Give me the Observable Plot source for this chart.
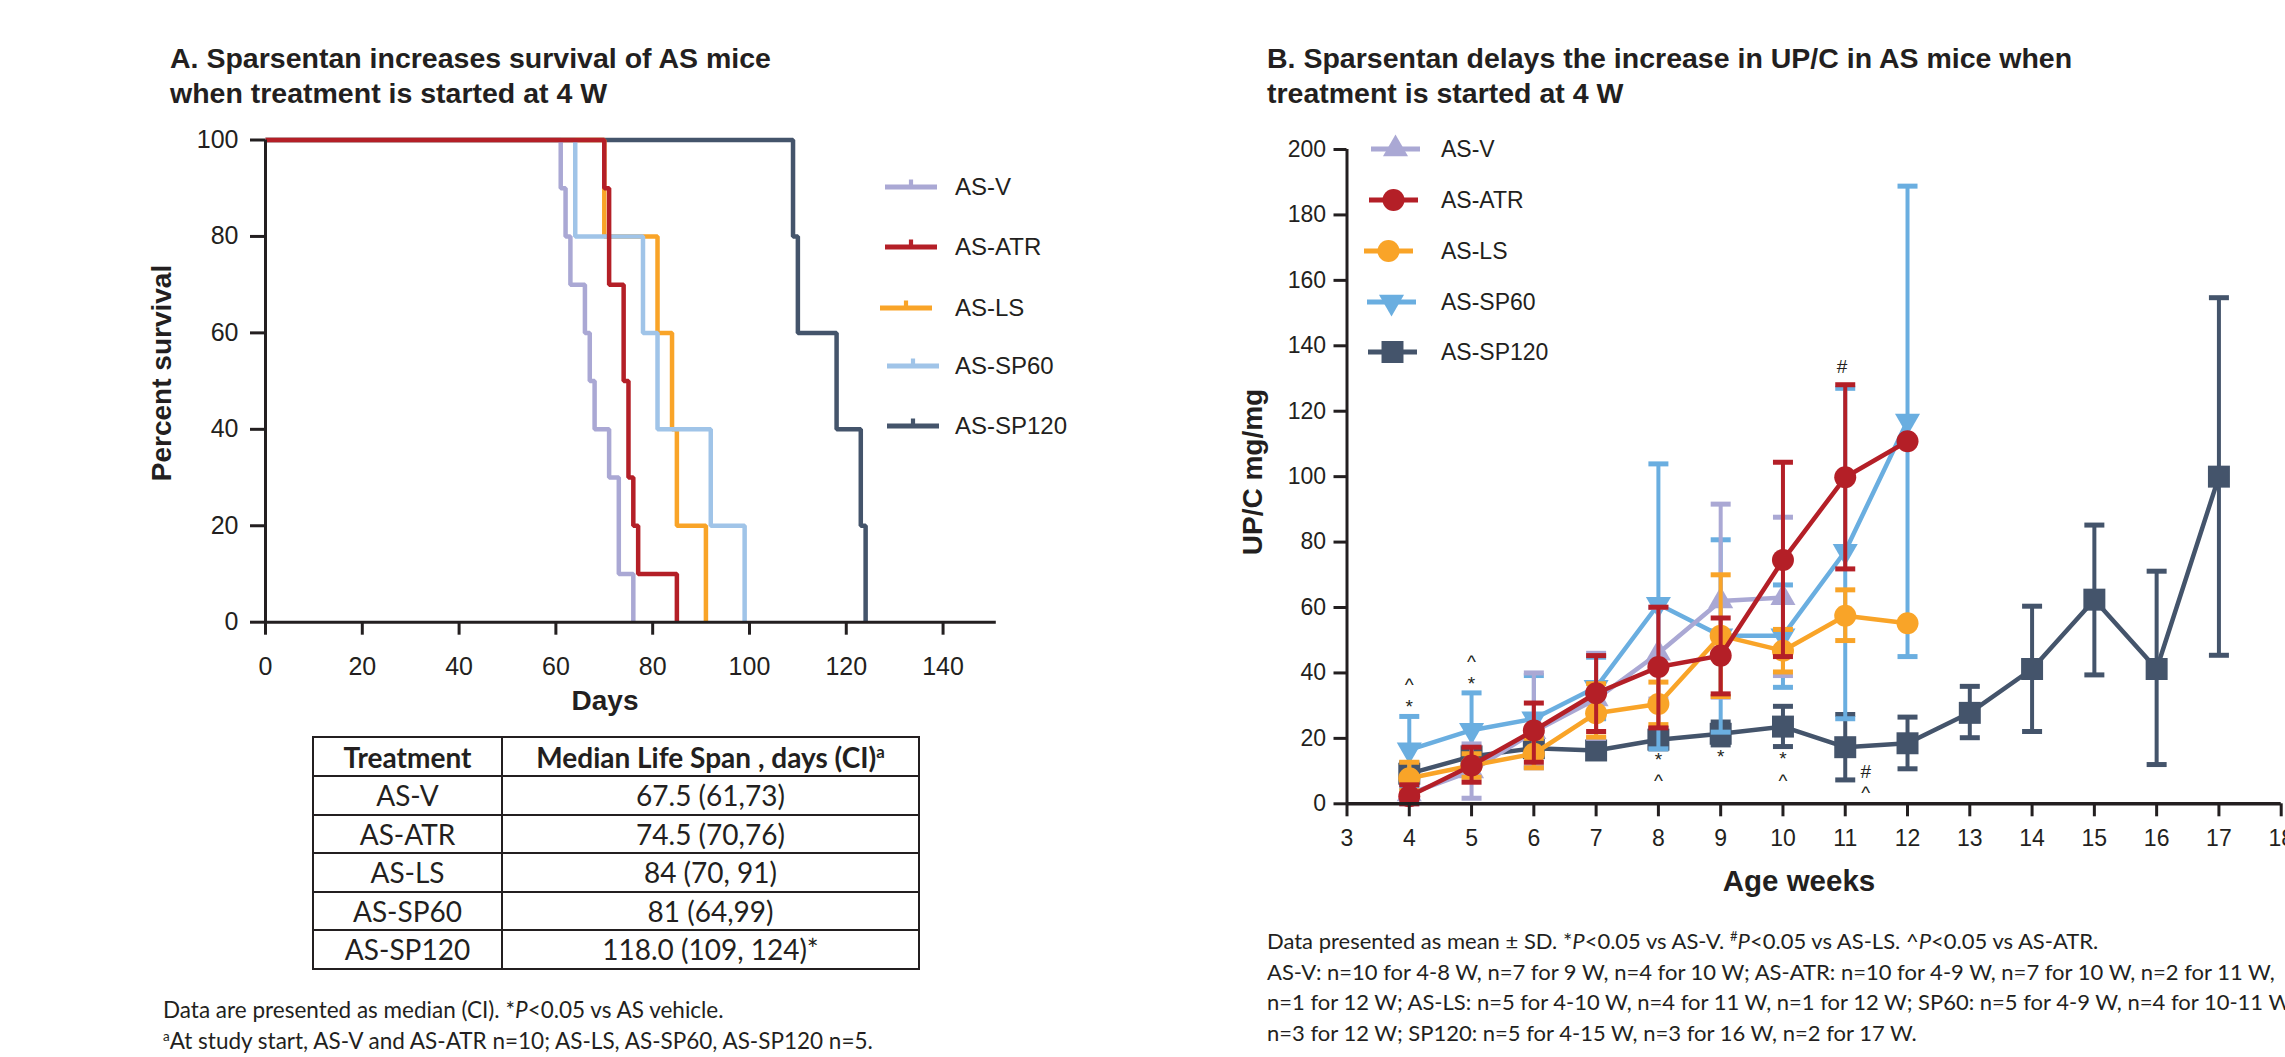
<!DOCTYPE html>
<html><head><meta charset="utf-8">
<script src="https://cdn.jsdelivr.net/npm/d3@7"></script>
<script src="https://cdn.jsdelivr.net/npm/@observablehq/plot@0.6"></script>
<style>
html,body{margin:0;padding:0;background:#fff;}
body{width:2285px;height:1057px;overflow:hidden;position:relative;font-family:"Liberation Sans",Arial,sans-serif;color:#231f20;}
.abs{position:absolute;white-space:nowrap;}
.title{font-weight:bold;font-size:28.5px;line-height:35px;}
.axt{font-weight:bold;font-size:28px;line-height:1;transform:translate(-50%,-50%);}
.axt.rot{transform:translate(-50%,-50%) rotate(-90deg);}
.note{font-family:Lato,"Open Sans",sans-serif;font-size:22px;line-height:30.6px;}
.note sup,.tbl sup{font-size:0.6em;line-height:0;vertical-align:super;}
.leg{font-size:24px;line-height:28px;}
table.tbl{border-collapse:collapse;font-family:Lato,sans-serif;font-size:28px;color:#231f20;}
.tbl td,.tbl th{border:2px solid #231f20;text-align:center;padding:0;}
</style></head><body>
<div id="root"></div>
<script>
// ---------------- data ----------------
const groups = ["AS-V","AS-ATR","AS-LS","AS-SP60","AS-SP120"];
const colorsA = ["#aaa8d4","#b41f27","#f9a428","#a0c4e8","#44546b"];
const colorsB = ["#aaa8d4","#b41f27","#f9a428","#6aaee0","#44546b"];

// Panel A: Kaplan-Meier steps (day, percent survival)
const daysV = [0,61,62,63,66,67,68,71,73,76];
const survV = [100,90,80,70,60,50,40,30,10,0];
const daysATR = [0,70,71,74,75,76,77,85];
const survATR = [100,90,70,50,30,20,10,0];
const daysLS = [0,70,81,84,85,91];
const survLS = [100,80,60,40,20,0];
const daysSP60 = [0,64,78,81,92,99];
const survSP60 = [100,80,60,40,20,0];
const daysSP120 = [0,109,110,118,123,124];
const survSP120 = [100,80,60,40,20,0];
const dayTicks = [0,20,40,60,80,100,120,140];
const survTicks = [0,20,40,60,80,100];

// Table
const tblHeader = ["Treatment","Median Life Span , days (CI)"];
const tblTreat = ["AS-V","AS-ATR","AS-LS","AS-SP60","AS-SP120"];
const tblMedian = ["67.5 (61,73)","74.5 (70,76)","84 (70, 91)","81 (64,99)","118.0 (109, 124)*"];

// Panel B: UP/C mean and SD range
const weeksV = [4,5,6,7,8,9,10];
const meanV = [3,10,22,32,46,62,63];
const loV   = [0,1.7,11,20,32,32.6,39.2];
const hiV   = [7,18.3,40,46,60,91.6,87.6];

const weeksATR = [4,5,6,7,8,9,10,11,12];
const meanATR = [2.3,11.7,22.4,33.8,41.8,45.3,74.5,99.8,110.8];
const loATR   = [0,6.6,12.7,22.1,23.2,33.6,45,71.8,null];
const hiATR   = [5.8,17.3,30.8,45.3,60.1,56.8,104.4,128.1,null];

const weeksLS = [4,5,6,7,8,9,10,11,12];
const meanLS = [7.8,11.7,15.3,27.7,30.5,51.4,46.8,57.5,55.2];
const loLS   = [4,8.1,11,20.4,24.2,32.8,40.3,49.9,null];
const hiLS   = [12.7,15.3,20,36.7,37.2,70,53.3,65.4,null];

const weeksSP60 = [4,5,6,7,8,9,10,11,12];
const meanSP60 = [16.5,22.5,26,35.6,61,51.4,51.4,77.2,117];
const loSP60   = [5,12,11.2,26,16.8,21.9,35.6,26,45];
const hiSP60   = [26.7,33.9,39.2,44.8,103.9,80.7,66.9,127,188.8];

const weeksSP120 = [4,5,6,7,8,9,10,11,12,13,14,15,16,17];
const meanSP120 = [9.2,14.5,17,16.3,19.6,21.4,23.6,17.3,18.5,27.8,41.2,62.4,41.2,100];
const loSP120   = [6,12,15,14.5,16.8,18,17.5,7.3,10.7,20.2,22.1,39.4,12,45.4];
const hiSP120   = [12.5,17,19,18.5,23,25,29.8,27.3,26.5,35.9,60.4,85.2,71.1,154.7];

const weekTicks = [3,4,5,6,7,8,9,10,11,12,13,14,15,16,17,18];
const upcTicks = [0,20,40,60,80,100,120,140,160,180,200];

// significance marks
const sigX = [4,4,5,5,8,8,9,10,10,10.95,11.33,11.33];
const sigY = [36.4,29.6,43.3,36.8,13.4,7.0,14.3,13.6,7.0,133.5,9.8,3.2];
const sigLabel = ["^","*","^","*","*","^","*","*","^","#","#","^"];

// ---------------- helpers ----------------
const ink = "#231f20";
const root = document.getElementById("root");
function add(html, style, cls){ const d=document.createElement("div"); d.className="abs "+(cls||""); d.innerHTML=html; Object.assign(d.style,style); root.appendChild(d); return d; }

// titles
add("A. Sparsentan increases survival of AS mice<br>when treatment is started at 4 W",{left:"170px",top:"41px"},"title");
add("B. Sparsentan delays the increase in UP/C in AS mice when<br>treatment is started at 4 W",{left:"1267px",top:"41px"},"title");

// ---------------- Panel A ----------------
const survSeries = [
  {g:"AS-SP120", d:daysSP120, s:survSP120},
  {g:"AS-LS", d:daysLS, s:survLS},
  {g:"AS-SP60", d:daysSP60, s:survSP60},
  {g:"AS-V", d:daysV, s:survV},
  {g:"AS-ATR", d:daysATR, s:survATR}
];
const colA = g => colorsA[groups.indexOf(g)];
const colB = g => colorsB[groups.indexOf(g)];

const marksA = [];
for (const ser of survSeries) {
  const rows = ser.d.map((d,i)=>({day:d, surv:ser.s[i]}));
  marksA.push(Plot.line(rows,{x:"day",y:"surv",curve:"step-after",stroke:colA(ser.g),strokeWidth:4.5,strokeLinejoin:"miter",strokeLinecap:"butt"}));
}
marksA.push(Plot.ruleX([0],{y1:0,y2:100,stroke:ink,strokeWidth:3}));
marksA.push(Plot.ruleY([0],{stroke:ink,strokeWidth:3}));
marksA.push(Plot.axisY({ticks:survTicks,tickSize:15,tickPadding:12,strokeWidth:3,stroke:ink,fill:ink,fontSize:25,label:null}));
marksA.push(Plot.axisX({ticks:dayTicks,tickSize:13,tickPadding:22,strokeWidth:3,stroke:ink,fill:ink,fontSize:25,label:null}));

const plotA = Plot.plot({
  width:860, height:620,
  marginLeft:115, marginRight:14.2, marginTop:29.5, marginBottom:108.3,
  x:{domain:[0,151]}, y:{domain:[0,100]},
  style:{fontFamily:"'Liberation Sans', Arial, sans-serif",fontSize:"25px",background:"transparent",overflow:"visible",maxWidth:"none",color:ink},
  marks:marksA
});
const wrapA = add("",{left:"150px",top:"110px",width:"860px",height:"620px"});
wrapA.appendChild(plotA);

add("Percent survival",{left:"162px",top:"373px"},"axt rot");
add("Days",{left:"605px",top:"701px"},"axt");

// legend A
const legAy = [187,247,308,366,425.5];
const legAx = [885,885,880,887,887];
groups.forEach((g,i)=>{
  const svg = `<svg width="60" height="30" style="display:block"><line x1="0" x2="52" y1="15" y2="15" stroke="${colorsA[i]}" stroke-width="5"/><line x1="26" x2="26" y1="15" y2="7.5" stroke="${colorsA[i]}" stroke-width="4.2"/></svg>`;
  add(svg,{left:legAx[i]+"px",top:(legAy[i]-15)+"px"});
  add(g,{left:"955px",top:(legAy[i]-14)+"px"},"leg");
});

// table
let th = `<table class="tbl" style="width:608px"><tr style="height:39px"><th style="width:187px">${tblHeader[0]}</th><th>${tblHeader[1]}<sup>a</sup></th></tr>`;
tblTreat.forEach((t,i)=>{ th += `<tr style="height:38.5px"><td>${t}</td><td>${tblMedian[i]}</td></tr>`; });
th += "</table>";
add(th,{left:"312px",top:"736px"});

add("Data are presented as median (CI). *<i>P</i>&lt;0.05 vs AS vehicle.<br><sup>a</sup>At study start, AS-V and AS-ATR n=10; AS-LS, AS-SP60, AS-SP120 n=5.",{left:"163px",top:"995px",fontSize:"22.5px"},"note");

// ---------------- Panel B ----------------
const triDown = {draw(ctx,size){const s=Math.sqrt(size*4/Math.sqrt(3)); const h=s*Math.sqrt(3)/2; ctx.moveTo(0,2*h/3); ctx.lineTo(-s/2,-h/3); ctx.lineTo(s/2,-h/3); ctx.closePath();}};
const capSym = {draw(ctx,size){const w=Math.sqrt(size/Math.PI); ctx.moveTo(-w,0); ctx.lineTo(w,0);}};
const symB = {"AS-V":[d3.symbolTriangle,9.3],"AS-ATR":[d3.symbolCircle,11],"AS-LS":[d3.symbolCircle,11],"AS-SP60":[triDown,9.3],"AS-SP120":[d3.symbolSquare,12.4]};

const upcSeries = [
  {g:"AS-SP120",w:weeksSP120,m:meanSP120,lo:loSP120,hi:hiSP120},
  {g:"AS-SP60",w:weeksSP60,m:meanSP60,lo:loSP60,hi:hiSP60},
  {g:"AS-V",w:weeksV,m:meanV,lo:loV,hi:hiV},
  {g:"AS-LS",w:weeksLS,m:meanLS,lo:loLS,hi:hiLS},
  {g:"AS-ATR",w:weeksATR,m:meanATR,lo:loATR,hi:hiATR}
];
const marksB = [];
for (const ser of upcSeries) {
  const c = colB(ser.g);
  const rows = ser.w.map((w,i)=>({x:w,m:ser.m[i],lo:ser.lo[i],hi:ser.hi[i]}));
  const err = rows.filter(r=>r.lo!=null);
  marksB.push(Plot.line(rows,{x:"x",y:"m",stroke:c,strokeWidth:4.5}));
  marksB.push(Plot.ruleX(err,{x:"x",y1:"lo",y2:"hi",stroke:c,strokeWidth:4}));
  marksB.push(Plot.dot(err,{x:"x",y:"lo",symbol:capSym,r:10,fill:"none",stroke:c,strokeWidth:5}));
  marksB.push(Plot.dot(err,{x:"x",y:"hi",symbol:capSym,r:10,fill:"none",stroke:c,strokeWidth:5}));
  marksB.push(Plot.dot(rows,{x:"x",y:"m",symbol:symB[ser.g][0],r:symB[ser.g][1],fill:c,stroke:"none"}));
}
const sigRows = sigX.map((x,i)=>({x, y:sigY[i], t:sigLabel[i]}));
marksB.push(Plot.text(sigRows,{x:"x",y:"y",text:"t",fontSize:19,fill:ink}));
marksB.push(Plot.ruleX([3],{y1:0,y2:200,stroke:ink,strokeWidth:3}));
marksB.push(Plot.ruleY([0],{stroke:ink,strokeWidth:3.5}));
marksB.push(Plot.axisY({ticks:upcTicks,tickSize:13,tickPadding:8,strokeWidth:3,stroke:ink,fill:ink,fontSize:23,label:null}));
marksB.push(Plot.axisX({ticks:weekTicks,tickSize:13,tickPadding:13,strokeWidth:3,stroke:ink,fill:ink,fontSize:23,label:null}));

const plotB = Plot.plot({
  width:1100, height:800,
  marginLeft:126.5, marginRight:39.3, marginTop:39, marginBottom:106.7,
  x:{domain:[3,18]}, y:{domain:[0,200]},
  style:{fontFamily:"'Liberation Sans', Arial, sans-serif",fontSize:"23px",background:"transparent",overflow:"visible",maxWidth:"none",color:ink},
  marks:marksB
});
const wrapB = add("",{left:"1220px",top:"110px",width:"1100px",height:"800px"});
wrapB.appendChild(plotB);

add("UP/C mg/mg",{left:"1253px",top:"472px"},"axt rot");
add("Age weeks",{left:"1799px",top:"881px",fontSize:"29.5px"},"axt");

// legend B
const legBy = [149,200,251,302,352];
const legBx = [1371,1369,1364,1367,1368];
groups.forEach((g,i)=>{
  const [sym,r] = symB[g];
  const p = d3.symbol(sym, r*r*Math.PI)();
  const svg = `<svg width="50" height="30" style="display:block;overflow:visible"><line x1="0" x2="49" y1="15" y2="15" stroke="${colorsB[i]}" stroke-width="5"/><path transform="translate(24.5,15)" d="${p}" fill="${colorsB[i]}"/></svg>`;
  add(svg,{left:legBx[i]+"px",top:(legBy[i]-15)+"px"});
  add(g,{left:"1441px",top:(legBy[i]-13.5)+"px",fontSize:"23px",lineHeight:"27px"},"leg");
});

add("Data presented as mean ± SD. *<i>P</i>&lt;0.05 vs AS-V. <sup>#</sup><i>P</i>&lt;0.05 vs AS-LS. ^<i>P</i>&lt;0.05 vs AS-ATR.<br>"+
    "AS-V: n=10 for 4-8 W, n=7 for 9 W, n=4 for 10 W; AS-ATR: n=10 for 4-9 W, n=7 for 10 W, n=2 for 11 W,<br>"+
    "n=1 for 12 W; AS-LS: n=5 for 4-10 W, n=4 for 11 W, n=1 for 12 W; SP60: n=5 for 4-9 W, n=4 for 10-11 W,<br>"+
    "n=3 for 12 W; SP120: n=5 for 4-15 W, n=3 for 16 W, n=2 for 17 W.",{left:"1267px",top:"926px"},"note");
</script>
</body></html>
